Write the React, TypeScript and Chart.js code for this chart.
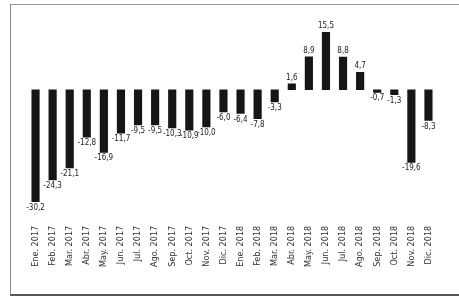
import React, { useEffect, useRef } from "react";
import { Chart, registerables } from "chart.js";

Chart.register(...registerables);

const months = ["Ene.", "Feb.", "Mar.", "Abr.", "May.", "Jun.", "Jul.", "Ago.", "Sep.", "Oct.", "Nov.", "Dic."];
const years = ["2017", "2018"];
const categories: string[] = years.flatMap((y) => months.map((m) => `${m} ${y}`));
const values = [
  -30.2, -24.3, -21.1, -12.8, -16.9, -11.7, -9.5, -9.5, -10.3, -10.9, -10.0, -6.0,
  -6.4, -7.8, -3.3, 1.6, 8.9, 15.5, 8.8, 4.7, -0.7, -1.3, -19.6, -8.3,
];

const FONT = "'Liberation Sans Narrow', 'DejaVu Sans Condensed', 'Liberation Sans', sans-serif";

const valueLabels = {
  id: "valueLabels",
  afterDatasetsDraw(chart: any) {
    const ctx = chart.ctx;
    const meta = chart.getDatasetMeta(0);
    ctx.save();
    ctx.font = `8px ${FONT}`;
    ctx.fillStyle = "#222";
    ctx.textAlign = "center";
    meta.data.forEach((bar: any, i: number) => {
      const v = values[i];
      const txt = v.toFixed(1).replace(".", ",");
      if (v >= 0) {
        ctx.textBaseline = "bottom";
        ctx.fillText(txt, bar.x, bar.y - 2);
      } else {
        ctx.textBaseline = "top";
        ctx.fillText(txt, bar.x, bar.y + 2);
      }
    });
    ctx.restore();
  },
};

export default function App() {
  const ref = useRef<HTMLCanvasElement>(null);
  useEffect(() => {
    document.body.style.margin = "0";
    const chart = new Chart(ref.current!, {
      type: "bar",
      data: {
        labels: categories,
        datasets: [
          {
            data: values,
            backgroundColor: "#161616",
            barThickness: 7.5,
          },
        ],
      },
      options: {
        animation: false,
        responsive: false,
        layout: { padding: { left: 27, right: 22, top: 23, bottom: 30 } },
        plugins: { legend: { display: false }, tooltip: { enabled: false } },
        scales: {
          x: {
            grid: { display: false },
            border: { display: false },
            ticks: {
              autoSkip: false,
              maxRotation: 90,
              minRotation: 90,
              padding: 2,
              color: "#333",
              font: { size: 9, family: FONT },
            },
          },
          y: {
            display: false,
            min: -34,
            max: 18,
          },
        },
      },
      plugins: [valueLabels],
    });
    return () => chart.destroy();
  }, []);
  return (
    <div style={{ position: "relative", width: 459, height: 299, background: "#fff" }}>
      <div
        style={{
          position: "absolute",
          left: 10,
          top: 4,
          width: 449,
          height: 292,
          borderLeft: "1px solid #888",
          borderTop: "1px solid #999",
          borderBottom: "2px solid #555",
          boxSizing: "border-box",
        }}
      />
      <canvas ref={ref} width={459} height={299} style={{ position: "absolute", left: 0, top: 0 }} />
    </div>
  );
}
